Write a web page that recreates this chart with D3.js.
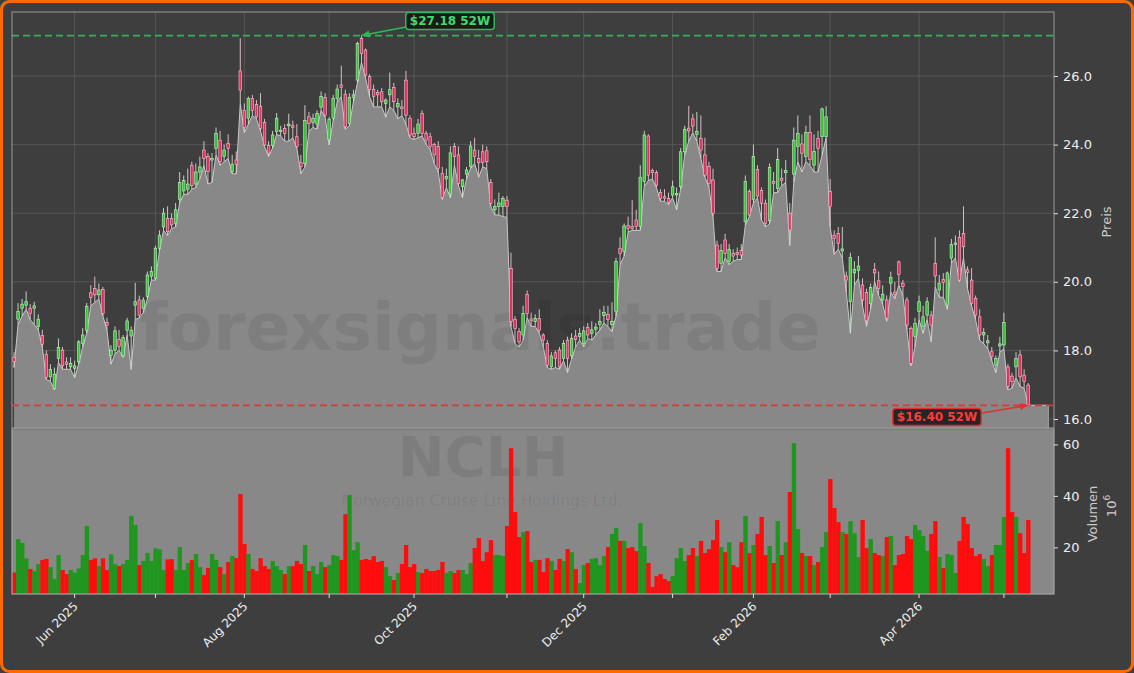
<!DOCTYPE html>
<html>
<head>
<meta charset="utf-8">
<script src="https://cdn.jsdelivr.net/npm/d3@7"></script>
<style>
html,body{margin:0;padding:0;background:#3e3e3e;}
svg{display:block;}
</style>
</head>
<body>
<svg id="chart" width="1134" height="673"></svg>
<script>
// ---------------- DATA ----------------
const ticker = "NCLH";
const companyName = "Norwegian Cruise Line Holdings Ltd.";
const watermark = "forexsignals.trade";
const startDate = "2025-05-09";
const marketHolidays = ["2025-05-26","2025-06-19","2025-07-04","2025-09-01","2025-11-27","2025-12-25","2026-01-01","2026-01-19","2026-02-16","2026-04-03"];

const open = [17.80,18.91,19.23,19.32,19.23,19.23,18.69,18.44,17.89,17.23,16.89,17.77,18.01,17.66,17.52,17.48,17.67,18.20,18.59,19.68,
19.81,19.62,19.78,18.82,17.85,18.01,18.32,17.84,18.59,18.42,19.32,19.47,19.23,19.57,20.15,20.10,20.98,21.60,21.85,21.85,
21.70,22.40,22.65,22.70,23.40,22.85,23.20,23.84,23.65,23.55,23.89,24.13,23.65,24.04,23.21,23.55,26.15,25.00,24.77,25.35,
25.17,25.12,24.65,23.97,23.97,24.38,24.38,24.47,24.55,24.55,24.23,23.47,23.45,24.81,24.64,24.60,25.09,25.37,24.14,24.77,
25.35,25.74,25.47,24.62,25.38,25.88,27.10,26.76,25.98,25.61,25.52,25.54,25.20,25.45,25.67,25.10,25.10,25.88,24.77,24.33,
24.33,24.91,24.33,24.23,24.00,23.94,23.16,23.00,22.56,23.94,23.70,22.77,23.14,23.36,23.84,23.60,23.79,23.82,22.89,22.10,
22.20,22.19,22.38,20.39,18.91,18.55,18.45,19.63,18.92,18.84,18.93,18.45,18.20,17.52,17.93,18.01,17.77,18.30,17.84,18.42,
18.40,18.20,18.67,18.50,18.62,18.75,19.02,19.05,18.75,19.13,20.98,20.88,21.65,21.61,21.80,21.61,22.92,24.25,23.24,23.19,
22.60,22.48,22.43,22.53,22.53,22.77,23.79,24.48,24.75,24.30,24.18,23.70,23.36,22.97,21.07,20.54,21.22,20.59,20.82,20.85,
20.91,21.75,22.63,22.40,23.28,22.66,22.29,21.78,22.92,22.72,23.02,23.18,22.00,23.14,23.94,24.02,23.65,24.35,23.40,24.18,
24.23,24.23,22.63,21.36,21.41,20.90,20.17,19.42,20.26,20.33,19.91,19.69,19.37,20.36,20.03,19.47,19.47,19.96,19.70,20.58,
19.96,19.47,18.64,18.40,19.13,18.69,19.03,19.03,20.54,19.76,20.07,19.32,20.69,21.09,21.29,21.41,20.35,20.05,19.52,18.98,
18.45,18.22,17.96,17.57,18.13,18.16,17.52,17.25,17.52,17.87,17.28,16.99];

const high = [17.95,19.38,19.50,19.72,19.35,19.42,19.05,18.60,18.00,17.60,17.50,18.35,18.10,17.80,17.80,17.70,18.30,18.65,19.38,19.90,
20.15,19.95,19.85,18.95,18.15,18.70,18.60,18.45,18.95,18.70,19.97,19.60,19.55,20.30,20.45,21.05,21.50,22.15,22.20,22.00,
22.30,23.20,23.10,23.30,23.50,23.45,23.65,24.10,23.75,23.75,24.50,24.40,24.00,24.30,23.70,23.80,27.10,25.20,25.40,25.45,
25.30,25.50,24.75,24.10,24.40,24.92,24.55,24.60,24.90,24.70,24.60,23.70,25.15,24.95,24.90,25.00,25.55,25.50,24.80,25.45,
25.75,26.30,25.60,25.50,25.60,27.00,27.18,26.80,26.05,25.75,25.60,25.65,25.35,26.10,25.80,25.35,25.30,26.15,24.85,24.50,
24.75,25.00,24.40,24.35,24.05,24.10,23.35,23.30,23.95,24.05,23.95,23.00,23.35,24.10,24.20,23.85,24.00,23.95,23.00,22.40,
22.60,22.50,22.50,20.85,19.00,18.65,19.30,19.75,19.10,19.05,19.20,18.50,18.30,17.95,18.00,18.10,18.30,18.40,18.50,18.60,
18.65,18.70,18.80,18.85,18.80,19.20,19.30,19.30,19.40,20.70,21.30,21.70,21.90,22.38,22.10,23.40,24.40,24.30,23.30,23.25,
22.70,22.70,22.60,22.95,22.75,23.90,24.55,25.13,24.90,24.95,24.85,24.20,23.50,23.30,21.20,21.10,21.40,21.10,20.95,21.00,
21.10,23.10,22.70,24.00,23.40,22.75,22.40,23.45,23.20,23.90,23.30,23.55,22.30,24.50,24.85,24.30,24.55,24.85,24.30,24.40,
25.08,25.12,23.00,21.50,21.60,21.60,20.30,20.85,20.60,20.75,20.10,19.80,19.95,20.55,20.30,19.90,19.60,20.30,20.00,20.62,
20.05,19.55,18.70,18.95,19.60,19.30,19.55,19.15,21.30,20.20,20.25,20.30,21.25,21.35,21.50,22.20,20.45,20.40,19.60,19.20,
18.65,18.45,18.10,17.85,18.40,19.10,17.60,17.35,17.95,18.00,17.45,17.05];

const low = [17.50,18.75,19.00,19.20,18.90,18.75,18.60,18.10,17.15,17.10,16.85,17.65,17.45,17.45,17.45,17.20,17.60,18.10,18.50,19.30,
19.40,19.50,19.00,18.60,17.60,17.90,18.00,17.80,18.45,17.45,18.90,18.95,19.10,19.50,20.05,20.05,20.90,21.50,21.35,21.55,
21.60,22.30,22.55,22.55,22.70,22.75,23.00,23.40,22.85,22.90,23.70,23.40,23.50,23.60,23.15,23.15,25.20,24.35,24.60,24.85,
24.75,24.40,23.95,23.65,23.90,24.30,24.25,24.10,24.10,24.20,23.90,23.15,23.35,24.40,24.50,24.45,25.00,24.80,23.99,24.70,
25.25,25.40,24.45,24.55,25.25,25.80,26.40,25.95,25.40,25.10,25.10,25.10,24.80,25.10,25.00,24.75,24.85,24.60,24.20,24.15,
24.20,24.25,24.00,23.85,23.45,23.20,22.40,22.75,22.45,23.40,22.80,22.45,23.00,23.30,23.45,23.05,23.35,23.30,22.20,21.95,
21.95,21.90,21.88,18.70,18.20,18.10,18.30,18.95,18.70,18.70,18.50,18.10,17.50,17.45,17.50,17.45,17.70,17.35,17.75,18.10,
18.30,18.10,18.35,18.30,18.45,18.60,18.80,18.70,18.55,19.00,20.50,20.75,21.45,21.50,21.50,21.50,22.80,22.95,23.00,22.75,
22.35,22.35,22.25,22.45,22.10,22.70,23.70,24.10,24.35,24.10,23.60,23.05,22.75,21.90,20.30,20.30,20.70,20.50,20.60,20.65,
20.65,21.65,21.90,22.30,22.45,21.80,21.60,21.70,22.60,22.60,22.80,22.90,21.06,22.90,23.50,23.20,23.50,23.40,23.20,23.20,
23.70,24.20,21.60,20.80,20.95,20.70,19.70,18.50,19.90,20.10,19.30,18.70,19.20,20.00,19.60,19.35,18.85,19.70,19.50,19.90,
19.60,18.60,17.55,18.10,18.90,18.50,18.90,18.25,19.85,19.55,19.55,19.20,20.55,20.70,20.00,20.70,19.80,19.30,18.90,18.30,
18.20,18.05,17.70,17.35,17.95,18.05,16.85,16.90,17.20,16.95,16.90,16.40];

const close = [17.67,19.13,19.35,19.42,19.08,19.30,18.91,18.18,17.21,17.45,17.31,18.09,17.55,17.59,17.62,17.55,18.25,18.45,19.28,19.54,
19.62,19.76,19.08,18.74,18.00,18.57,18.11,18.38,18.86,18.59,19.42,19.03,19.47,20.20,20.30,20.98,21.36,22.00,21.46,21.66,
22.10,22.90,22.95,22.85,22.80,23.20,23.35,23.60,23.21,23.60,24.33,23.50,23.84,23.89,23.43,23.43,25.59,24.50,25.35,25.00,
24.81,24.47,23.99,23.75,24.28,24.77,24.42,24.33,24.60,24.50,23.94,23.36,24.70,24.62,24.77,24.91,25.40,24.86,24.74,25.35,
25.62,25.67,24.52,25.38,25.45,26.95,26.66,26.03,25.61,25.40,25.45,25.25,25.30,25.60,25.25,25.20,25.05,24.86,24.28,24.23,
24.60,24.33,24.13,23.94,23.70,23.31,22.46,23.07,23.76,23.65,22.87,22.97,23.26,23.96,23.65,23.47,23.48,23.50,22.29,22.20,
22.30,22.43,22.19,18.84,18.64,18.25,19.08,19.08,18.86,18.93,18.59,18.30,17.57,17.84,17.77,17.52,18.20,17.77,18.35,18.32,
18.50,18.57,18.45,18.60,18.68,18.85,19.10,18.90,18.85,20.59,20.83,21.63,21.56,21.56,21.61,23.05,24.28,23.11,23.18,22.82,
22.43,22.44,22.31,22.77,22.58,23.79,24.44,24.40,24.54,24.38,23.84,23.11,22.87,22.00,20.39,20.91,20.83,20.95,20.75,20.79,
20.78,22.92,21.95,23.66,22.50,22.29,21.70,23.34,22.87,23.57,22.95,23.24,21.51,24.13,24.33,23.75,24.35,23.57,23.80,23.89,
25.04,24.81,22.19,21.27,21.12,20.96,20.05,20.71,20.36,20.46,19.47,18.87,19.84,20.26,19.81,19.64,18.94,20.13,19.63,20.22,
19.86,18.74,17.62,18.79,19.42,18.98,19.42,18.74,20.17,19.96,19.98,20.26,21.09,21.13,20.05,21.02,20.27,19.37,19.03,18.45,
18.52,18.28,17.82,17.77,18.19,18.81,16.94,17.09,17.77,17.23,17.09,16.41];

// volume in millions (10^6)
const volume = [10.2,23.2,21.7,15.7,11.6,10.8,13.5,15.1,15.5,12.3,7.7,17.0,11.2,9.6,11.2,10.2,11.8,17.0,28.3,15.1,
15.7,12.7,15.7,11.2,17.3,13.4,12.7,13.5,15.1,32.2,28.7,13.1,14.7,17.8,14.7,19.6,19.2,11.2,15.3,15.4,
11.2,20.1,11.2,13.9,15.1,17.4,12.3,9.2,12.0,17.4,15.1,12.3,9.6,14.3,16.6,15.8,40.7,21.3,17.4,11.6,
10.8,15.8,12.7,11.6,14.7,12.7,11.2,9.6,12.7,12.7,14.7,13.5,20.9,10.8,12.7,9.6,14.3,12.3,13.1,17.0,
16.6,15.1,32.9,40.3,18.9,22.0,15.1,15.5,15.1,16.6,14.3,14.7,12.3,8.8,7.3,10.0,13.5,20.9,12.3,13.5,
10.4,10.0,11.6,10.8,10.8,11.2,14.3,10.0,10.8,10.0,11.2,11.2,9.6,13.9,19.7,23.6,14.7,18.1,22.8,17.0,
17.0,16.6,28.3,58.5,33.7,24.0,25.9,26.3,14.3,15.1,15.1,10.4,15.8,14.7,11.2,15.5,14.7,19.3,18.1,11.6,
6.1,13.1,13.9,15.5,15.8,13.1,16.6,20.1,25.2,27.5,22.5,22.5,19.7,20.1,18.5,29.4,20.5,13.9,4.6,8.8,
9.6,7.7,6.9,8.8,15.8,19.7,14.7,17.0,19.7,16.6,22.5,17.8,19.3,22.8,30.6,20.1,18.1,22.0,13.1,12.3,
22.0,32.2,17.8,20.9,25.2,31.8,17.0,20.5,13.9,30.2,17.0,22.0,41.5,60.5,27.1,17.8,16.6,16.6,13.1,14.3,
20.1,25.9,46.5,35.3,29.8,25.9,25.2,30.2,25.5,16.2,30.6,19.7,23.2,17.8,17.0,16.6,24.0,24.4,13.1,17.0,
17.4,24.4,23.2,28.7,26.7,24.4,18.6,25.2,30.2,16.2,12.0,17.4,17.0,10.0,22.5,31.8,29.1,19.7,16.6,17.4,
15.5,12.7,17.0,20.9,20.9,31.8,58.5,33.7,31.8,25.5,17.8,30.6];

const priceTicks = [16, 18, 20, 22, 24, 26];
const volumeTicks = [20, 40, 60];
const majorMonths = ["2025-06","2025-08","2025-10","2025-12","2026-02","2026-04"];
const minorMonths = ["2025-07","2025-09","2025-11","2026-01","2026-03","2026-05"];
const yLabelPrice = "Preis";
const yLabelVolume = "Volumen";
const hiLabelSuffix = " 52W";

// ---------------- TRADING DATES (category axis) ----------------
const N = close.length;
const holidaySet = new Set(marketHolidays);
const fmtISO = d3.utcFormat("%Y-%m-%d");
const dates = [];
{
  let d = new Date(startDate + "T00:00:00Z");
  while (dates.length < N) {
    const wd = d.getUTCDay();
    if (wd !== 0 && wd !== 6 && !holidaySet.has(fmtISO(d))) dates.push(new Date(d));
    d = new Date(d.getTime() + 86400000);
  }
}
const data = dates.map((d, i) => ({i, date: d, o: open[i], h: high[i], l: low[i], c: close[i], v: volume[i]}));

// ---------------- LAYOUT ----------------
const W = 1134, H = 673;
const L = 12, R = 1054;
const pTop = 12, pBot = 428;
const vTop = 430, vBot = 594;

const svg = d3.select("#chart");
svg.append("rect").attr("x",0).attr("y",0).attr("width",W).attr("height",H).attr("fill","#3e3e3e");

const x = d3.scaleLinear().domain([-0.5, 257.4]).range([L, R]);
const yP = d3.scaleLinear().domain([15.738, 27.866]).range([pBot, pTop]);
const yV = d3.scaleLinear().domain([1.86, 65.6]).range([vBot, vTop]);

const firstIdx = key => data.findIndex(d => d3.utcFormat("%Y-%m")(d.date) === key);
const majorIdx = majorMonths.map(firstIdx).filter(i => i >= 0);
const minorIdx = minorMonths.map(firstIdx).filter(i => i >= 0);
const allIdx = majorIdx.concat(minorIdx);

// ---- price panel ----
const defs = svg.append("defs");
defs.append("clipPath").attr("id","clipP").append("rect")
  .attr("x",L).attr("y",pTop).attr("width",R-L).attr("height",pBot-pTop);
defs.append("clipPath").attr("id","clipV").append("rect")
  .attr("x",L).attr("y",vTop).attr("width",R-L).attr("height",vBot-vTop);

const gP = svg.append("g");
gP.append("g").selectAll("line").data(priceTicks).join("line")
  .attr("x1",L).attr("x2",R).attr("y1",d=>yP(d)).attr("y2",d=>yP(d))
  .attr("stroke","#5c5c5c").attr("stroke-width",0.8);
gP.append("g").selectAll("line").data(allIdx).join("line")
  .attr("x1",d=>x(d)).attr("x2",d=>x(d)).attr("y1",pTop).attr("y2",pBot)
  .attr("stroke","#5c5c5c").attr("stroke-width",0.8);

const plot = svg.append("g").attr("clip-path","url(#clipP)");

// low area
const areaData = data.concat([{i: 256, l: low[N-1]}]);
const area = d3.area().x(d=>x(d.i)).y0(pBot).y1(d=>yP(d.l));
plot.append("path").datum(areaData).attr("d",area).attr("fill","#888888");
plot.append("path").datum(areaData)
  .attr("d", d3.line().x(d=>x(d.i)).y(d=>yP(d.l)))
  .attr("fill","none").attr("stroke","#c8c8c8").attr("stroke-width",1);
plot.append("line").attr("x1",x(256)).attr("x2",x(256)).attr("y1",yP(low[N-1])).attr("y2",pBot)
  .attr("stroke","#a8a8a8").attr("stroke-width",1);

// 52W lines
const hiVal = d3.max(high), loVal = d3.min(low);
const hiIdx = high.indexOf(hiVal), loIdx = low.indexOf(loVal);
plot.append("line").attr("x1",L).attr("x2",R).attr("y1",yP(hiVal)).attr("y2",yP(hiVal))
  .attr("stroke","#34b05a").attr("stroke-width",1.7).attr("stroke-dasharray","7,4");
plot.append("line").attr("x1",L).attr("x2",R).attr("y1",yP(loVal)).attr("y2",yP(loVal))
  .attr("stroke","#d83a3a").attr("stroke-width",1.7).attr("stroke-dasharray","7,4");

// watermark text
plot.append("text").attr("x",480).attr("y",350).attr("text-anchor","middle")
  .attr("font-family","DejaVu Sans").attr("font-weight","bold").attr("font-size",66)
  .attr("fill","#000").attr("fill-opacity",0.07).text(watermark);

// candles
const bw = 2.6;
const up = d => d.c >= d.o;
const cg = plot.append("g");
cg.selectAll("line").data(data).join("line")
  .attr("x1",d=>x(d.i)).attr("x2",d=>x(d.i))
  .attr("y1",d=>yP(d.h)).attr("y2",d=>yP(d.l))
  .attr("stroke",d=>up(d)?"#cfe2cf":"#e8cad2").attr("stroke-width",0.9);
cg.selectAll("rect").data(data).join("rect")
  .attr("x",d=>x(d.i)-bw/2).attr("width",bw)
  .attr("y",d=>yP(Math.max(d.o,d.c)))
  .attr("height",d=>Math.max(1, Math.abs(yP(d.o)-yP(d.c))))
  .attr("fill",d=>up(d)?"#36c436":"#e2305e")
  .attr("stroke",d=>up(d)?"#c8f0c8":"#f4c4d2").attr("stroke-width",0.6);

svg.append("rect").attr("x",L).attr("y",pTop).attr("width",R-L).attr("height",pBot-pTop)
  .attr("fill","none").attr("stroke","#9a9a9a").attr("stroke-width",1);

// price axis
const axP = svg.append("g").attr("transform",`translate(${R},0)`)
  .call(d3.axisRight(yP).tickValues(priceTicks).tickFormat(d3.format(".1f")).tickSize(4).tickPadding(5));
axP.select(".domain").remove();
axP.selectAll("line").attr("stroke","#dddddd");
axP.selectAll("text").attr("fill","#eeeeee").attr("font-family","DejaVu Sans").attr("font-size",13);
svg.append("text").attr("transform",`translate(1111,222) rotate(-90)`).attr("text-anchor","middle")
  .attr("font-family","DejaVu Sans").attr("font-size",13).attr("fill","#cccccc").text(yLabelPrice);

// ---- volume panel ----
svg.append("rect").attr("x",L).attr("y",vTop).attr("width",R-L).attr("height",vBot-vTop).attr("fill","#888888");
const vg = svg.append("g").attr("clip-path","url(#clipV)");
const step = x(1) - x(0);

// NCLH watermark (behind bars)
vg.append("text").attr("x",483).attr("y",476).attr("text-anchor","middle")
  .attr("font-family","DejaVu Sans").attr("font-weight","bold").attr("font-size",56)
  .attr("fill","#000").attr("fill-opacity",0.08).text(ticker);
vg.append("text").attr("x",482).attr("y",506).attr("text-anchor","middle")
  .attr("font-family","DejaVu Sans").attr("font-size",15.5)
  .attr("fill","#000").attr("fill-opacity",0.07).text(companyName);

vg.selectAll("rect").data(data).join("rect")
  .attr("x",d=>x(d.i)-step/2).attr("width",step+0.3)
  .attr("y",d=>yV(d.v)).attr("height",d=>vBot-yV(d.v))
  .attr("fill",d=>up(d)?"#1f961f":"#ff0d0d");

svg.append("rect").attr("x",L).attr("y",vTop-1).attr("width",R-L).attr("height",vBot-vTop+1)
  .attr("fill","none").attr("stroke","#a6a6a6").attr("stroke-width",1.2);

const axV = svg.append("g").attr("transform",`translate(${R},0)`)
  .call(d3.axisRight(yV).tickValues(volumeTicks).tickFormat(d3.format("d")).tickSize(4).tickPadding(5));
axV.select(".domain").remove();
axV.selectAll("line").attr("stroke","#dddddd");
axV.selectAll("text").attr("fill","#eeeeee").attr("font-family","DejaVu Sans").attr("font-size",13);
svg.append("text").attr("transform",`translate(1097,514) rotate(-90)`).attr("text-anchor","middle")
  .attr("font-family","DejaVu Sans").attr("font-size",13).attr("fill","#cccccc").text(yLabelVolume);
const t6 = svg.append("text").attr("transform",`translate(1116,506) rotate(-90)`).attr("text-anchor","middle")
  .attr("font-family","DejaVu Sans").attr("font-size",13).attr("fill","#cccccc");
t6.append("tspan").text("10");
t6.append("tspan").attr("font-size",9).attr("dy",-6).text("6");

// x axis
const axX = svg.append("g").attr("transform",`translate(0,${vBot})`);
axX.selectAll("line").data(allIdx).join("line")
  .attr("x1",d=>x(d)).attr("x2",d=>x(d)).attr("y1",0).attr("y2",4)
  .attr("stroke","#dddddd").attr("stroke-width",1);
const fmtMon = d3.utcFormat("%b %Y");
axX.selectAll("text").data(majorIdx).join("text")
  .attr("transform",d=>`translate(${x(d)+4},${13}) rotate(-45)`)
  .attr("text-anchor","end")
  .attr("font-family","DejaVu Sans").attr("font-size",12).attr("fill","#eeeeee")
  .text(d=>fmtMon(data[d].date));

// 52W annotations
function annot(val, idx, color, textColor, bx, by, ax, ay) {
  const g = svg.append("g");
  const label = "$" + val.toFixed(2) + hiLabelSuffix;
  const t = g.append("text").attr("x",bx).attr("y",by).attr("text-anchor","middle").attr("dominant-baseline","central")
    .attr("font-family","DejaVu Sans").attr("font-weight","bold").attr("font-size",12).attr("fill",textColor).text(label);
  const bb = t.node().getBBox();
  g.insert("rect","text").attr("x",bb.x-4).attr("y",bb.y-1.5).attr("width",bb.width+8).attr("height",bb.height+3)
    .attr("rx",3).attr("fill","#141414").attr("fill-opacity",0.85).attr("stroke",color).attr("stroke-width",1.5);
  const tx = x(idx), ty = yP(val);
  g.append("line").attr("x1",ax).attr("y1",ay).attr("x2",tx).attr("y2",ty)
    .attr("stroke",color).attr("stroke-width",1.6);
  const ang = Math.atan2(ty-ay, tx-ax);
  const len = 8, wid = 3.5;
  const p1 = [tx - len*Math.cos(ang) + wid*Math.sin(ang), ty - len*Math.sin(ang) - wid*Math.cos(ang)];
  const p2 = [tx - len*Math.cos(ang) - wid*Math.sin(ang), ty - len*Math.sin(ang) + wid*Math.cos(ang)];
  g.append("path").attr("d",`M${tx},${ty}L${p1[0]},${p1[1]}L${p2[0]},${p2[1]}Z`).attr("fill",color);
}
annot(hiVal, hiIdx, "#2fb85a", "#3ddc6e", 450, 21, 406, 27);
annot(loVal, loIdx, "#e03030", "#ff3a3a", 937, 417, 982, 413);

// outer orange border
svg.append("rect").attr("x",1.5).attr("y",1.5).attr("width",W-3).attr("height",H-3).attr("rx",8)
  .attr("fill","none").attr("stroke","#ff6a00").attr("stroke-width",3);
</script>
</body>
</html>
